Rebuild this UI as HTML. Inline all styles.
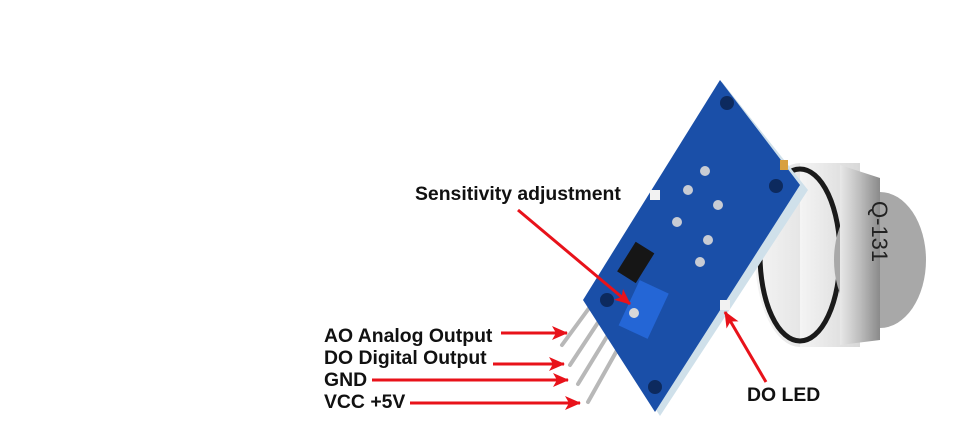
<!DOCTYPE html>
<html><head><style>
html,body{margin:0;padding:0;background:#fff;}
svg{display:block}
text{font-family:"Liberation Sans",Arial,sans-serif;font-weight:bold;font-size:19.4px;fill:#111}
</style></head><body>
<svg width="970" height="436" viewBox="0 0 970 436">
<defs>
<marker id="ah" markerWidth="16" markerHeight="14" refX="15" refY="7" orient="auto" markerUnits="userSpaceOnUse" viewBox="0 0 16 14">
<path d="M0,0 L16,7 L0,14 L4,7 Z" fill="#e8121a"/></marker>
<linearGradient id="metal" x1="0" y1="0" x2="1" y2="0">
<stop offset="0" stop-color="#e8e8e8"/><stop offset="0.5" stop-color="#bdbdbd"/><stop offset="1" stop-color="#8a8a8a"/></linearGradient>
<linearGradient id="body" x1="0" y1="0" x2="1" y2="0">
<stop offset="0" stop-color="#f4f4f4"/><stop offset="1" stop-color="#d8d8d8"/></linearGradient>
</defs>
<!-- sensor -->
<ellipse cx="800" cy="255" rx="45" ry="92" fill="url(#body)"/>
<rect x="800" y="163" width="60" height="184" fill="url(#body)"/>
<ellipse cx="800" cy="255" rx="40" ry="86" fill="none" stroke="#1a1a1a" stroke-width="5"/>
<ellipse cx="880" cy="260" rx="46" ry="68" fill="#a8a8a8"/>
<path d="M840,165 L880,178 L880,340 L840,345 Z" fill="url(#metal)"/>
<text x="848" y="205" transform="rotate(90 862 215)" style="font-weight:normal;font-size:22px;fill:#222">Q-131</text>
<!-- pins -->
<g stroke="#b8b8b8" stroke-width="4" stroke-linecap="round">
<line x1="595" y1="300" x2="562" y2="345"/>
<line x1="603" y1="315" x2="570" y2="365"/>
<line x1="611" y1="330" x2="578" y2="384"/>
<line x1="620" y1="345" x2="588" y2="402"/>
</g>
<!-- board -->
<path d="M722,82 L808,190 L660,416 L585,302 Z" fill="#cfe0ea"/>
<path d="M720,80 L800,185 L655,412 L583,300 Z" fill="#1a4fa8"/>
<circle cx="727" cy="103" r="7" fill="#0d2a5e"/>
<circle cx="776" cy="186" r="7" fill="#0d2a5e"/>
<circle cx="655" cy="387" r="7" fill="#0d2a5e"/>
<circle cx="607" cy="300" r="7" fill="#0d2a5e"/>
<g fill="#c8ccd4"><circle cx="705" cy="171" r="5"/><circle cx="688" cy="190" r="5"/><circle cx="718" cy="205" r="5"/><circle cx="677" cy="222" r="5"/><circle cx="708" cy="240" r="5"/><circle cx="700" cy="262" r="5"/></g>
<rect x="625" y="245" width="22" height="35" fill="#161616" transform="rotate(32 636 262)"/>
<rect x="720" y="300" width="10" height="10" fill="#f2f2f2"/>
<rect x="650" y="190" width="10" height="10" fill="#f2f2f2"/>
<rect x="780" y="160" width="8" height="10" fill="#d8a040"/>
<!-- potentiometer -->
<rect x="628" y="285" width="32" height="50" fill="#2466d6" transform="rotate(25 645 309)"/>
<circle cx="634" cy="313" r="5" fill="#d8d8d8"/>
<!-- arrows -->
<g stroke="#e8121a" stroke-width="3" marker-end="url(#ah)" fill="none">
<line x1="518" y1="210" x2="630" y2="304"/>
<line x1="501" y1="333" x2="567" y2="333"/>
<line x1="493" y1="364" x2="564" y2="364"/>
<line x1="372" y1="380" x2="568" y2="380"/>
<line x1="410" y1="403" x2="580" y2="403"/>
<line x1="766" y1="382" x2="725" y2="312"/>
</g>
<text x="415" y="200">Sensitivity adjustment</text>
<text x="324" y="342">AO Analog Output</text>
<text x="324" y="364">DO Digital Output</text>
<text x="324" y="386">GND</text>
<text x="324" y="408">VCC +5V</text>
<text x="747" y="401">DO LED</text>
</svg>
</body></html>
